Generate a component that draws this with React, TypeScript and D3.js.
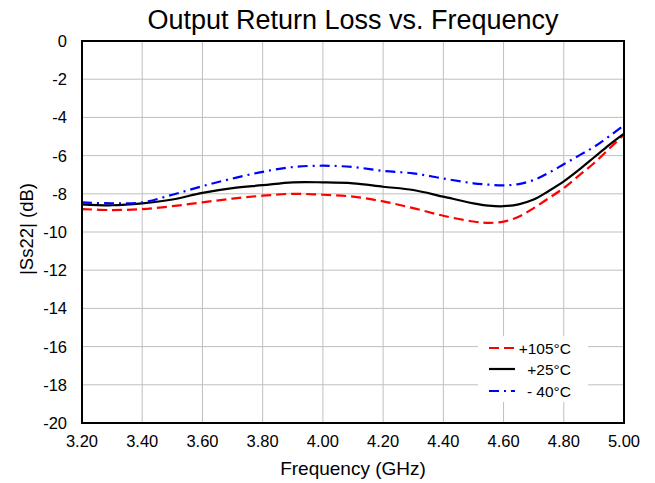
import React from "react";
import * as d3 from "d3";

const freqs = [3.2, 3.3, 3.4, 3.5, 3.6, 3.7, 3.8, 3.9, 4.0, 4.1, 4.2, 4.3, 4.4, 4.5, 4.55, 4.6, 4.65, 4.7, 4.75, 4.8, 4.85, 4.9, 4.95, 5.0];
const hot = [-8.8, -8.85, -8.8, -8.65, -8.45, -8.25, -8.1, -8.0, -8.05, -8.15, -8.4, -8.75, -9.15, -9.45, -9.52, -9.46, -9.2, -8.75, -8.23, -7.7, -7.05, -6.4, -5.65, -4.9];
const room = [-8.55, -8.6, -8.5, -8.3, -7.95, -7.7, -7.55, -7.4, -7.4, -7.45, -7.63, -7.8, -8.15, -8.5, -8.62, -8.65, -8.55, -8.3, -7.85, -7.35, -6.75, -6.1, -5.45, -4.85];
const cold = [-8.45, -8.5, -8.45, -8.05, -7.6, -7.2, -6.85, -6.6, -6.53, -6.6, -6.8, -6.93, -7.2, -7.45, -7.52, -7.56, -7.49, -7.28, -6.9, -6.45, -6.0, -5.55, -5.0, -4.4];

const xTicks = [3.2, 3.4, 3.6, 3.8, 4.0, 4.2, 4.4, 4.6, 4.8, 5.0];
const yTicks = [0, -2, -4, -6, -8, -10, -12, -14, -16, -18, -20];

const seriesNames = ["+105°C", "+25°C", "- 40°C"];
const seriesData = [hot, room, cold];
const seriesColors = ["#ff0000", "#000000", "#0000ff"];
const seriesDash = ["10,5", "", "10,5,2,5"];

export default function App() {
  const W = 655, H = 483;
  const L = 82, R = 624, T = 41, B = 423;
  const x = d3.scaleLinear().domain([3.2, 5.0]).range([L, R]);
  const y = d3.scaleLinear().domain([-20, 0]).range([B, T]);
  const line = d3.line<number>().x((_, i) => x(freqs[i])).y((d) => y(d)).curve(d3.curveCatmullRom.alpha(0.5));
  const font = "Arial, 'Liberation Sans', sans-serif";
  const legX1 = 489, legX2 = 515, legTextR = 571;
  const legY = [348, 369, 391];
  return (
    <svg width={W} height={H} style={{ position: "absolute", left: 0, top: 0 }} fontFamily={font}>
      <rect x={0} y={0} width={W} height={H} fill="#fff" />
      {xTicks.map((t) => (
        <line key={"gx" + t} x1={x(t)} x2={x(t)} y1={T} y2={B} stroke="#bfbfbf" strokeWidth={1} />
      ))}
      {yTicks.map((t) => (
        <line key={"gy" + t} x1={L} x2={R} y1={y(t)} y2={y(t)} stroke="#bfbfbf" strokeWidth={1} />
      ))}
      {seriesData.map((s, i) => (
        <path key={"s" + i} d={line(s) || ""} fill="none" stroke={seriesColors[i]} strokeWidth={2.2} strokeDasharray={seriesDash[i]} />
      ))}
      <rect x={L} y={T} width={R - L} height={B - T} fill="none" stroke="#000" strokeWidth={2} />
      <rect x={478} y={336} width={110} height={66} fill="#fff" />
      {seriesNames.map((n, i) => (
        <g key={"lg" + i}>
          <line x1={legX1} x2={legX2} y1={legY[i]} y2={legY[i]} stroke={seriesColors[i]} strokeWidth={2.2} strokeDasharray={seriesDash[i]} />
          <text x={legTextR} y={legY[i] + 5.5} textAnchor="end" fontSize={15.5} fill="#000">{n}</text>
        </g>
      ))}
      {xTicks.map((t) => (
        <text key={"tx" + t} x={x(t)} y={B + 24} textAnchor="middle" fontSize={16.5} fill="#000">{t.toFixed(2)}</text>
      ))}
      {yTicks.map((t) => (
        <text key={"ty" + t} x={L - 15} y={y(t) + 6} textAnchor="end" fontSize={16.5} fill="#000">{t}</text>
      ))}
      <text x={(L + R) / 2} y={475} textAnchor="middle" fontSize={19} fill="#000">Frequency (GHz)</text>
      <text transform={`translate(33,${229}) rotate(-90)`} textAnchor="middle" fontSize={18.5} fill="#000">|Ss22| (dB)</text>
      <text x={(L + R) / 2} y={29} textAnchor="middle" fontSize={27} fill="#000">Output Return Loss vs. Frequency</text>
    </svg>
  );
}
